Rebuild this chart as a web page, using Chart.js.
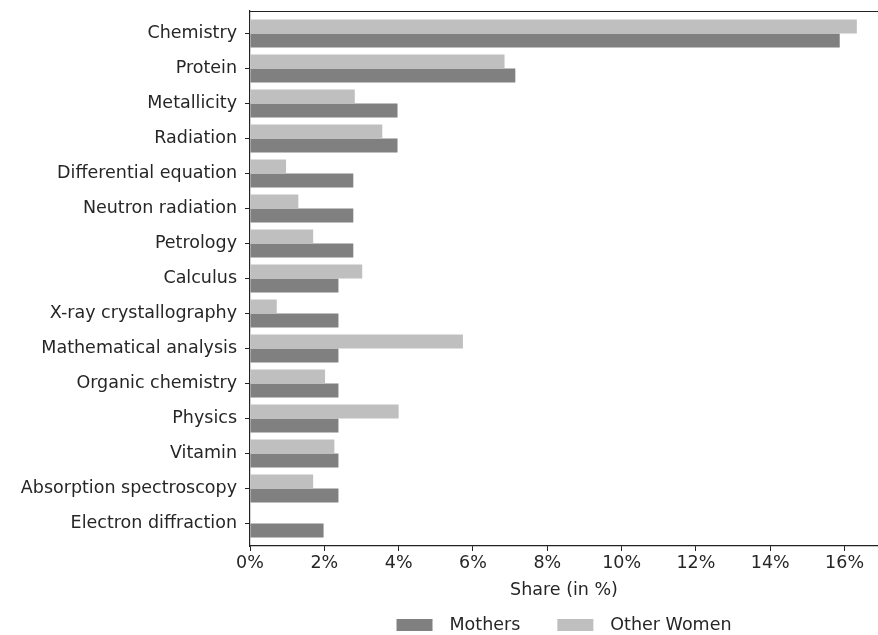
<!DOCTYPE html>
<html>
<head>
<meta charset="utf-8">
<script src="https://cdn.jsdelivr.net/npm/chart.js@4.4.1/dist/chart.umd.min.js"></script>
<style>
  html, body { margin: 0; padding: 0; background: #fff; }
  #wrap { width: 878px; height: 635px; }
</style>
</head>
<body>
<div id="wrap"><canvas id="chart"></canvas></div>
<script>
const categories = [
  'Chemistry', 'Protein', 'Metallicity', 'Radiation', 'Differential equation',
  'Neutron radiation', 'Petrology', 'Calculus', 'X-ray crystallography',
  'Mathematical analysis', 'Organic chemistry', 'Physics', 'Vitamin',
  'Absorption spectroscopy', 'Electron diffraction'
];
const mothers = [15.87, 7.14, 3.97, 3.97, 2.78, 2.78, 2.78, 2.38, 2.38, 2.38, 2.38, 2.38, 2.38, 2.38, 1.98];
const otherWomen = [16.33, 6.85, 2.82, 3.56, 0.97, 1.30, 1.70, 3.02, 0.72, 5.73, 2.02, 4.00, 2.27, 1.70, 0];
const xTicks = [0, 2, 4, 6, 8, 10, 12, 14, 16];

const FONT = 'DejaVu Sans';
const TEXT = '#262626';
const DARK = '#808080';
const LIGHT = '#bfbfbf';

const toPoints = arr => arr.map((v, i) => ({ x: v, y: i }));

// top spine + legend underneath the axis title
const frameAndLegend = {
  id: 'frameAndLegend',
  afterDraw(chart) {
    const { ctx, chartArea } = chart;
    ctx.save();
    ctx.strokeStyle = '#222';
    ctx.lineWidth = 1.2;
    ctx.beginPath();
    ctx.moveTo(chartArea.left, chartArea.top + 0.5);
    ctx.lineTo(chartArea.right, chartArea.top + 0.5);
    ctx.stroke();

    const items = [['Mothers', DARK], ['Other Women', LIGHT]];
    ctx.font = '17.5px "' + FONT + '"';
    ctx.textBaseline = 'middle';
    ctx.textAlign = 'left';
    const boxW = 36, boxH = 12, gap = 17, between = 37;
    let total = 0;
    items.forEach(([t], i) => {
      total += boxW + gap + ctx.measureText(t).width + (i ? 0 : between);
    });
    let x = (chartArea.left + chartArea.right) / 2 - total / 2;
    const y = 625;
    items.forEach(([t, c]) => {
      ctx.fillStyle = c;
      ctx.fillRect(x, y - boxH / 2, boxW, boxH);
      x += boxW + gap;
      ctx.fillStyle = TEXT;
      ctx.fillText(t, x, y);
      x += ctx.measureText(t).width + between;
    });
    ctx.restore();
  }
};

new Chart(document.getElementById('chart'), {
  type: 'bar',
  data: {
    datasets: [
      { label: 'Other Women', data: toPoints(otherWomen), backgroundColor: LIGHT },
      { label: 'Mothers', data: toPoints(mothers), backgroundColor: DARK }
    ]
  },
  options: {
    indexAxis: 'y',
    responsive: true,
    maintainAspectRatio: false,
    animation: false,
    categoryPercentage: 0.8,
    barPercentage: 1.0,
    layout: { padding: { top: 11, left: 0, right: 0, bottom: 0 } },
    scales: {
      x: {
        type: 'linear',
        min: 0,
        max: 16.9,
        afterFit: s => { s.height = 89; },
        afterBuildTicks: s => { s.ticks = xTicks.map(v => ({ value: v })); },
        ticks: {
          callback: v => v + '%',
          color: TEXT,
          font: { family: FONT, size: 17.5 },
          padding: 2,
          maxRotation: 0
        },
        grid: { drawOnChartArea: false, tickLength: 5, tickColor: '#222', tickWidth: 1 },
        border: { color: '#222', width: 1.2 },
        title: {
          display: true,
          text: 'Share (in %)',
          color: TEXT,
          font: { family: FONT, size: 17.5 },
          padding: { top: 4, bottom: 34 }
        }
      },
      y: {
        type: 'linear',
        reverse: true,
        offset: false,
        min: -0.64,
        max: 14.64,
        afterFit: s => { s.width = 250; s.paddingTop = 0; s.paddingBottom = 0; },
        afterBuildTicks: s => { s.ticks = categories.map((c, i) => ({ value: i })); },
        ticks: {
          callback: v => categories[v],
          color: TEXT,
          font: { family: FONT, size: 17.5 },
          padding: 8,
          autoSkip: false
        },
        grid: { offset: false, drawOnChartArea: false, tickLength: 5, tickColor: '#222', tickWidth: 1 },
        border: { color: '#222', width: 1.2 }
      }
    },
    plugins: {
      legend: { display: false },
      tooltip: { enabled: false }
    }
  },
  plugins: [frameAndLegend]
});
</script>
</body>
</html>
